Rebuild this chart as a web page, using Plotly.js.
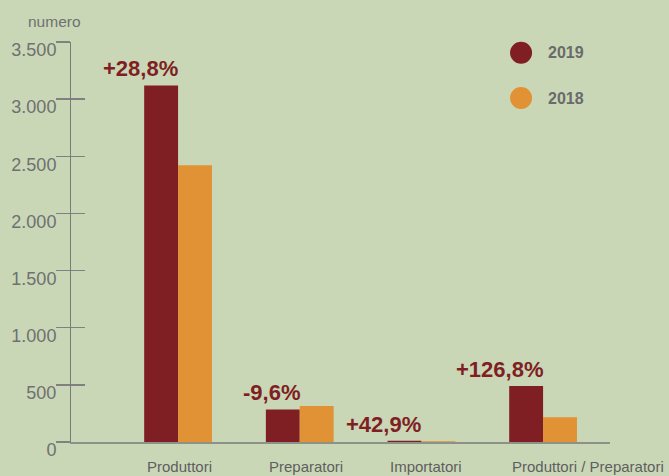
<!DOCTYPE html>
<html><head><meta charset="utf-8">
<script src="https://cdn.plot.ly/plotly-3.0.1.min.js"></script>
<style>html,body{margin:0;padding:0;background:#c9d7b7;}</style>
</head><body><div id="chart" style="width:669px;height:476px;"></div>
<script>
var categories = ["Produttori", "Preparatori", "Importatori", "Produttori / Preparatori"];
var values2019 = [3120, 285, 10, 490];
var values2018 = [2422, 315, 7, 216];
var changeLabels = ["+28,8%", "-9,6%", "+42,9%", "+126,8%"];
var seriesNames = ["2019", "2018"];
var yTicks = [0, 500, 1000, 1500, 2000, 2500, 3000, 3500];

var c2019 = "#7f1f23", c2018 = "#e09234", bg = "#c9d7b7";
var sans = "'Liberation Sans', Arial, sans-serif";

var traces = [
  {type: "bar", x: categories, y: values2019, name: seriesNames[0], marker: {color: c2019}, showlegend: false, hoverinfo: "none"},
  {type: "bar", x: categories, y: values2018, name: seriesNames[1], marker: {color: c2018}, showlegend: false, hoverinfo: "none"},
  {type: "scatter", x: [categories[0]], y: [0], yaxis: "y2", mode: "markers", marker: {opacity: 0}, showlegend: false, hoverinfo: "none"}
];

var annotations = categories.map(function (c, i) {
  return {x: c, y: values2019[i], xref: "x", yref: "y", text: changeLabels[i], showarrow: false,
    xanchor: "right", yanchor: "bottom", xshift: 2, yshift: 2,
    font: {family: sans, size: 22, color: c2019, weight: "bold"}};
});
// category labels, left-aligned under the first bar of each group
categories.forEach(function (c) {
  annotations.push({x: c, y: -0.06, xref: "x", yref: "paper", text: c, showarrow: false,
    xanchor: "left", yanchor: "middle", xshift: -33,
    font: {family: sans, size: 15, color: "#5f5f5f"}});
});
annotations.push({xref: "paper", yref: "paper", x: -0.03, y: 1.05, xanchor: "center", yanchor: "middle",
  text: "numero", showarrow: false, font: {family: sans, size: 15.5, color: "#707070"}});

var shapes = [];
seriesNames.forEach(function (n, i) {
  var col = i === 0 ? c2019 : c2018;
  var yp = i === 0 ? 0.973 : 0.86;
  shapes.push({type: "circle", xref: "paper", yref: "paper", xsizemode: "pixel", ysizemode: "pixel",
    xanchor: 0.835, yanchor: yp, x0: -11, x1: 11, y0: -11, y1: 11, fillcolor: col, line: {width: 0}});
  annotations.push({xref: "paper", yref: "paper", x: 0.882, y: yp, xanchor: "left", yanchor: "middle",
    text: n, showarrow: false, font: {family: sans, size: 16, color: "#6a6a6a", weight: "bold"}});
});

var layout = {
  width: 669, height: 476,
  paper_bgcolor: bg, plot_bgcolor: bg,
  margin: {l: 71, r: 59, t: 42, b: 34},
  separators: ",.",
  barmode: "group", bargap: 0.443, bargroupgap: 0,
  showlegend: false,
  xaxis: {type: "category", range: [-0.88, 3.55], showline: true, linecolor: "#8d9289", linewidth: 2,
    ticks: "", showgrid: false, zeroline: false, fixedrange: true, showticklabels: false},
  yaxis: {range: [0, 3500], tickvals: yTicks, tickformat: ",d", showline: true, linecolor: "#7a7a7a", linewidth: 1,
    ticks: "outside", ticklen: 14, tickwidth: 1.5, tickcolor: "#808080", showgrid: false, zeroline: false,
    tickfont: {family: sans, size: 18, color: "#707070"},
    ticklabelstandoff: -4, ticklabelshift: 8},
  yaxis2: {overlaying: "y", range: [0, 3500], tickvals: yTicks, ticks: "inside", ticklen: 14, tickwidth: 1.5,
    tickcolor: "#808080", showticklabels: false, showgrid: false, zeroline: false, showline: false, side: "left"},
  annotations: annotations,
  shapes: shapes
};

Plotly.newPlot("chart", traces, layout, {staticPlot: true});
</script></body></html>
